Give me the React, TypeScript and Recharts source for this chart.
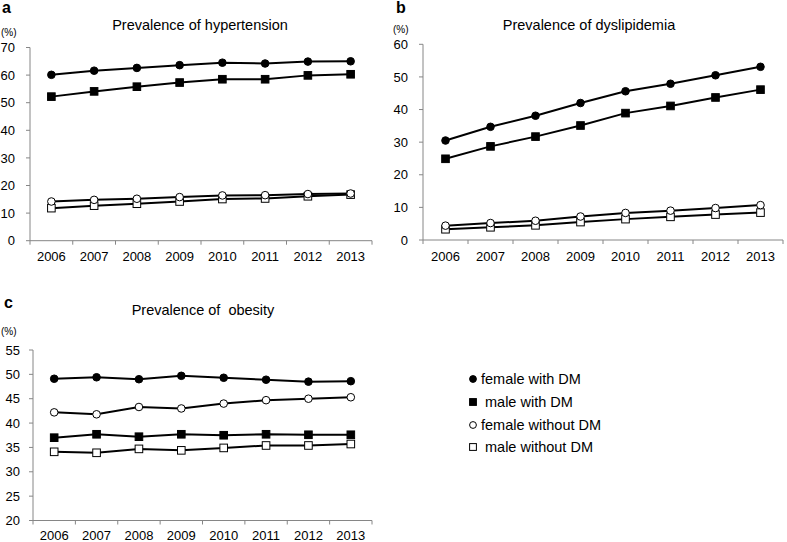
import { LineChart, Line, XAxis, YAxis, Legend } from 'recharts';

// 조사 연도 (x축 카테고리)
const years = [2006, 2007, 2008, 2009, 2010, 2011, 2012, 2013];

// 시리즈 이름 (범례 순서)
const seriesNames = ['female with DM', 'male with DM', 'female without DM', 'male without DM'];
const seriesKeys = ['femaleDM', 'maleDM', 'femaleNoDM', 'maleNoDM'];

// a: hypertension (%)
const htnFemaleDM = [60.1, 61.6, 62.6, 63.6, 64.5, 64.2, 64.9, 65.0];
const htnMaleDM = [52.2, 54.1, 55.8, 57.3, 58.5, 58.5, 59.9, 60.3];
const htnFemaleNoDM = [14.2, 14.8, 15.2, 15.8, 16.4, 16.5, 16.9, 17.1];
const htnMaleNoDM = [11.8, 12.7, 13.4, 14.2, 15.1, 15.3, 16.1, 16.7];

// b: dyslipidemia (%)
const dysFemaleDM = [30.5, 34.7, 38.1, 42.0, 45.6, 47.9, 50.5, 53.1];
const dysMaleDM = [24.9, 28.7, 31.7, 35.1, 38.9, 41.1, 43.7, 46.1];
const dysFemaleNoDM = [4.4, 5.2, 5.9, 7.2, 8.3, 9.0, 9.8, 10.7];
const dysMaleNoDM = [3.3, 3.9, 4.5, 5.5, 6.4, 7.1, 7.8, 8.4];

// c: obesity (%)
const obeFemaleDM = [49.1, 49.4, 49.0, 49.7, 49.3, 48.9, 48.5, 48.6];
const obeMaleDM = [37.0, 37.7, 37.2, 37.7, 37.5, 37.7, 37.6, 37.6];
const obeFemaleNoDM = [42.2, 41.8, 43.3, 43.0, 44.0, 44.7, 45.0, 45.3];
const obeMaleNoDM = [34.1, 33.9, 34.7, 34.4, 34.9, 35.4, 35.4, 35.7];

// y축 눈금
const htnTicks = [0, 10, 20, 30, 40, 50, 60, 70];
const dysTicks = [0, 10, 20, 30, 40, 50, 60];
const obeTicks = [20, 25, 30, 35, 40, 45, 50, 55];

const AXIS = '#868686';
const FONT = '"Liberation Sans", Arial, sans-serif';

// 마커 모양 (범례 순서와 동일)
const markerStyles: Record<string, { shape: 'circle' | 'square'; filled: boolean }> = {
  femaleDM: { shape: 'circle', filled: true },
  maleDM: { shape: 'square', filled: true },
  femaleNoDM: { shape: 'circle', filled: false },
  maleNoDM: { shape: 'square', filled: false },
};

function buildRows(series: number[][]) {
  return years.map((year, i) => {
    const row: Record<string, number> = { year };
    seriesKeys.forEach((k, j) => {
      row[k] = series[j][i];
    });
    return row;
  });
}

const htnData = buildRows([htnFemaleDM, htnMaleDM, htnFemaleNoDM, htnMaleNoDM]);
const dysData = buildRows([dysFemaleDM, dysMaleDM, dysFemaleNoDM, dysMaleNoDM]);
const obeData = buildRows([obeFemaleDM, obeMaleDM, obeFemaleNoDM, obeMaleNoDM]);

// 카테고리 경계(눈금선) + 중심(라벨)
const xTicks = [...years.flatMap((y) => [y - 0.5, y]), years[years.length - 1] + 0.5];
const xDomain = [years[0] - 0.5, years[years.length - 1] + 0.5];

function Marker({ cx, cy, k, size = 3.8 }: { cx: number; cy: number; k: string; size?: number }) {
  const m = markerStyles[k];
  const fill = m.filled ? '#000' : '#fff';
  if (m.shape === 'circle') {
    return <circle cx={cx} cy={cy} r={size} fill={fill} stroke="#000" strokeWidth={1} />;
  }
  return (
    <rect x={cx - size} y={cy - size} width={size * 2} height={size * 2} fill={fill} stroke="#000" strokeWidth={1} />
  );
}

const dotFor = (k: string) => (props: any) => {
  const { cx, cy, index } = props;
  if (cx == null || cy == null) return <g key={`e${index}`} />;
  return (
    <g key={`${k}-${index}`}>
      <Marker cx={cx} cy={cy} k={k} />
    </g>
  );
};

const YearTick = (labelOffset: number) => (props: any) => {
  const { x, y, payload } = props;
  const v = payload.value as number;
  if (!Number.isInteger(v)) {
    return <line x1={x} x2={x} y1={y} y2={y + 4} stroke={AXIS} strokeWidth={1} />;
  }
  return (
    <text x={x} y={y + labelOffset} textAnchor="middle" fontSize={13} fill="#000" fontFamily={FONT}>
      {v}
    </text>
  );
};

// 그리는 순서: 뒤쪽부터
const drawOrder = ['maleNoDM', 'femaleNoDM', 'maleDM', 'femaleDM'];

function renderLines() {
  return drawOrder.map((k) => (
    <Line
      key={k}
      type="linear"
      dataKey={k}
      name={seriesNames[seriesKeys.indexOf(k)]}
      stroke="#000"
      strokeWidth={2}
      dot={dotFor(k)}
      activeDot={false}
      isAnimationActive={false}
    />
  ));
}

function LegendBox() {
  const rows = [14, 37, 60, 82];
  return (
    <svg width={200} height={100} style={{ display: 'block' }}>
      {seriesKeys.map((k, i) => (
        <g key={k}>
          <Marker cx={13} cy={rows[i]} k={k} size={3.4} />
          <text
            x={markerStyles[k].shape === 'circle' ? 21 : 25}
            y={rows[i] + 5}
            fontSize={14.5}
            fill="#000"
            fontFamily={FONT}
          >
            {seriesNames[i]}
          </text>
        </g>
      ))}
    </svg>
  );
}

type PanelProps = {
  data: Record<string, number>[];
  width: number;
  height: number;
  margin: { top: number; right: number; bottom: number; left: number };
  yWidth: number;
  xHeight: number;
  yDomain: [number, number];
  yTicks: number[];
  yTickMargin: number;
  labelOffset: number;
  legend?: boolean;
};

function Panel(p: PanelProps) {
  return (
    <LineChart width={p.width} height={p.height} data={p.data} margin={p.margin}>
      <XAxis
        dataKey="year"
        type="number"
        domain={xDomain}
        ticks={xTicks}
        interval={0}
        tickSize={0}
        tickMargin={0}
        tickLine={false}
        axisLine={{ stroke: AXIS }}
        height={p.xHeight}
        tick={YearTick(p.labelOffset)}
      />
      <YAxis
        type="number"
        domain={p.yDomain}
        ticks={p.yTicks}
        interval={0}
        width={p.yWidth}
        tickSize={4}
        tickMargin={p.yTickMargin}
        stroke={AXIS}
        tickLine={{ stroke: AXIS }}
        axisLine={{ stroke: AXIS }}
        tick={{ fill: '#000', fontSize: 13, fontFamily: FONT }}
      />
      {renderLines()}
      {p.legend && (
        <Legend
          layout="horizontal"
          verticalAlign="middle"
          align="center"
          wrapperStyle={{ left: 460, top: 95, width: 200, height: 100 }}
          content={() => <LegendBox />}
        />
      )}
    </LineChart>
  );
}

export default function App() {
  return (
    <div
      style={{
        position: 'absolute',
        left: 0,
        top: 0,
        width: 787,
        height: 542,
        background: '#fff',
        fontFamily: FONT,
      }}
    >
      {/* a: 고혈압 */}
      <div style={{ position: 'absolute', left: 0, top: 0 }}>
        <Panel
          data={htnData}
          width={390}
          height={270}
          margin={{ top: 47.5, right: 18, bottom: 0, left: 0 }}
          yWidth={30}
          xHeight={29.3}
          yDomain={[0, 70]}
          yTicks={htnTicks}
          yTickMargin={11}
          labelOffset={20.5}
        />
      </div>

      {/* b: 이상지질혈증 */}
      <div style={{ position: 'absolute', left: 390, top: 0 }}>
        <Panel
          data={dysData}
          width={397}
          height={270}
          margin={{ top: 44.3, right: 4, bottom: 0, left: 0 }}
          yWidth={33}
          xHeight={30}
          yDomain={[0, 60]}
          yTicks={dysTicks}
          yTickMargin={11}
          labelOffset={20.5}
        />
      </div>

      {/* c: 비만 + 범례 */}
      <div style={{ position: 'absolute', left: 0, top: 270 }}>
        <Panel
          data={obeData}
          width={787}
          height={272}
          margin={{ top: 80, right: 415, bottom: 0, left: 0 }}
          yWidth={33}
          xHeight={21.5}
          yDomain={[20, 55]}
          yTicks={obeTicks}
          yTickMargin={9}
          labelOffset={19.5}
          legend
        />
      </div>

      {/* 패널 라벨, 제목, 단위 */}
      <svg
        width={787}
        height={542}
        style={{ position: 'absolute', left: 0, top: 0, pointerEvents: 'none' }}
      >
        <text x={2} y={13} fontSize={16} fontWeight="bold" fill="#000">a</text>
        <text x={396} y={13} fontSize={16} fontWeight="bold" fill="#000">b</text>
        <text x={4} y={308} fontSize={16} fontWeight="bold" fill="#000">c</text>

        <text x={200} y={30} fontSize={14.5} textAnchor="middle" fill="#000">Prevalence of hypertension</text>
        <text x={589} y={30} fontSize={14.5} textAnchor="middle" fill="#000">Prevalence of dyslipidemia</text>
        <text x={203} y={315} fontSize={14.5} textAnchor="middle" fill="#000" style={{ whiteSpace: 'pre' }}>
          {'Prevalence of  obesity'}
        </text>

        <text x={1} y={36} fontSize={10} fill="#000">(%)</text>
        <text x={393} y={33} fontSize={10} fill="#000">(%)</text>
        <text x={1} y={335} fontSize={10} fill="#000">(%)</text>
      </svg>
    </div>
  );
}
